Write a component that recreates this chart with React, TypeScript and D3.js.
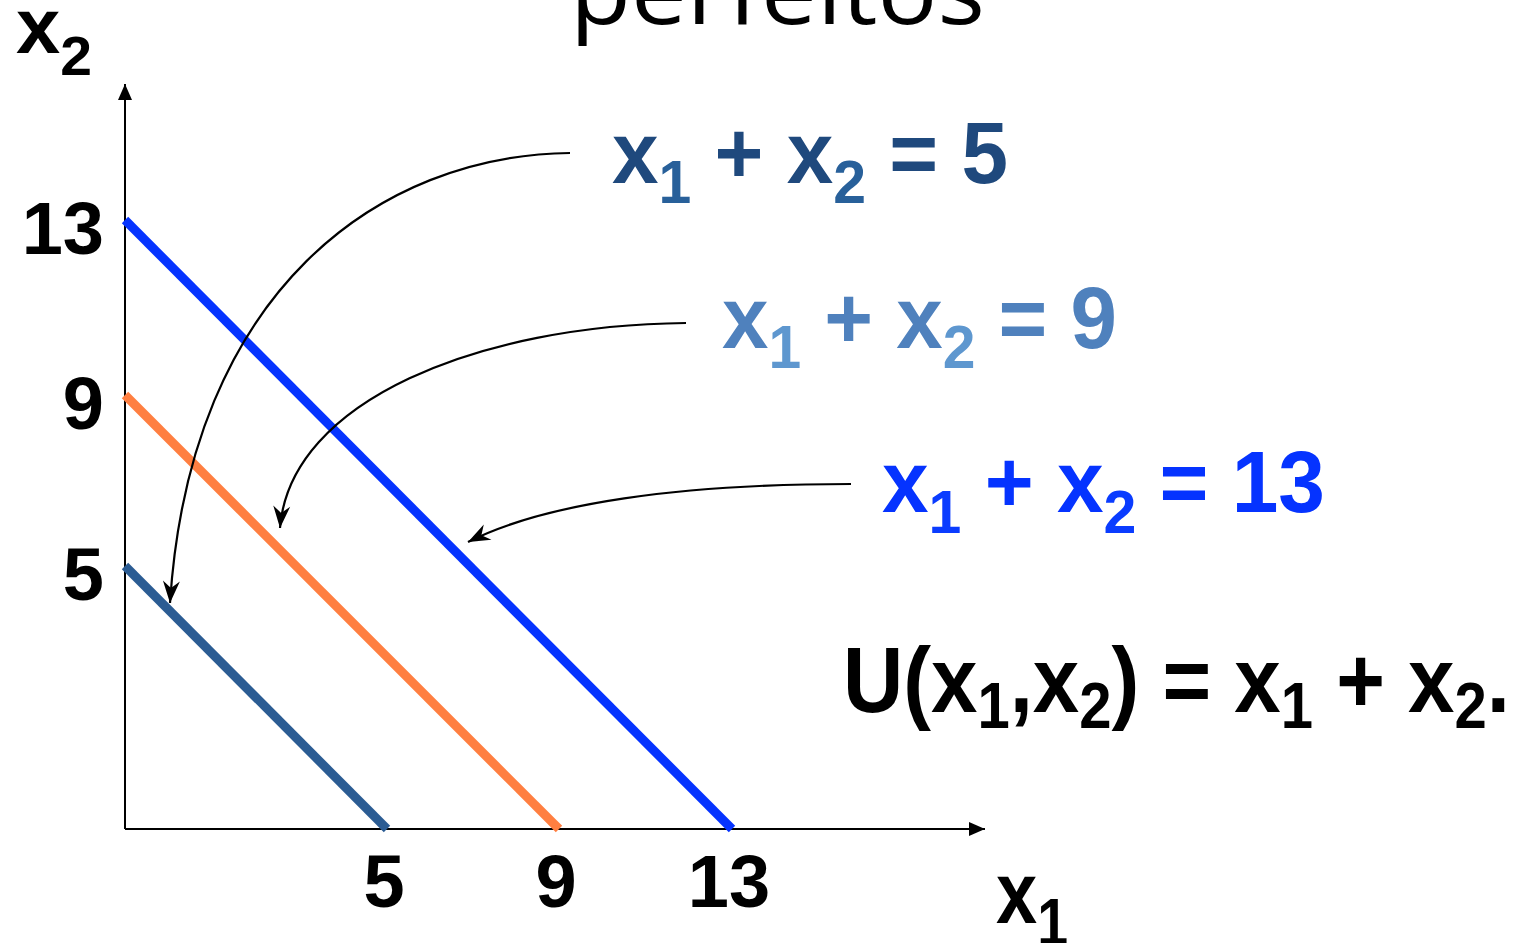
import React, { useLayoutEffect, useRef, useState } from "react";
import * as d3 from "d3";

// ---- data ----
const levels = [5, 9, 13]; // utility levels: x1 + x2 = k
const xTicks = [5, 9, 13];
const yTicks = [5, 9, 13];
const titleText = "perfeitos";
const utilityText = "U(x1,x2) = x1 + x2.";

// ---- styles ----
const lineColors = ["#2B5C93", "#FF7F41", "#0533FF"];
const labelMain = ["#1F497D", "#4F81BD", "#0533FF"];
const labelSub = ["#28609A", "#5E97CF", "#0A3CFF"];
const FONT = "'Liberation Sans', Arial, Helvetica, sans-serif";

// piecewise scale (hand drawn diagram, not strictly linear)
const xScale = d3.scaleLinear().domain([0, 5, 9, 13]).range([125, 387, 559, 732]);
const yScale = d3.scaleLinear().domain([0, 5, 9, 13]).range([829, 566, 395, 220]);

type Seg = { t: string; sub?: boolean };

function parseMath(s: string): Seg[] {
  const out: Seg[] = [];
  for (let i = 0; i < s.length; i++) {
    const c = s[i];
    const isSub = /[12]/.test(c) && i > 0 && s[i - 1] === "x";
    const last = out[out.length - 1];
    if (last && !!last.sub === isSub && !isSub) last.t += c;
    else out.push({ t: c, sub: isSub });
  }
  return out;
}

function MathText(props: {
  x: number; y: number; width: number; text: string; size: number; subSize: number;
  shift: number; fill: string; subFill: string;
}) {
  const { x, y, width, text, size, subSize, shift, fill, subFill } = props;
  const ref = useRef<SVGTextElement>(null);
  const [geo, setGeo] = useState({ sx: 1, x0: 0 });
  useLayoutEffect(() => {
    if (ref.current) {
      const b = ref.current.getBBox();
      if (b.width > 0) setGeo({ sx: width / b.width, x0: b.x });
    }
  }, [width, text]);
  const segs = parseMath(text);
  let cur = 0;
  return (
    <g transform={`translate(${x},${y}) scale(${geo.sx},1) translate(${-geo.x0},0)`}>
      <text ref={ref} x={0} y={0} fontFamily={FONT} fontWeight="bold" fontSize={size}
        fill={fill} style={{ whiteSpace: "pre" }}>
        {segs.map((s, i) => {
          const target = s.sub ? shift : 0;
          const dy = target - cur;
          cur = target;
          return (
            <tspan key={i} dy={dy || undefined} fontSize={s.sub ? subSize : size}
              fill={s.sub ? subFill : fill}>{s.t}</tspan>
          );
        })}
      </text>
    </g>
  );
}

export default function App() {
  const line = d3.line<[number, number]>().x((d) => xScale(d[0])).y((d) => yScale(d[1]));
  const x0 = xScale(0);
  const y0 = yScale(0);

  const labelPos = [
    { x: 612, y: 183, w: 396, shift: 20 },
    { x: 722, y: 348, w: 395, shift: 20 },
    { x: 882, y: 512, w: 443, shift: 21 },
  ];
  const arrows = [
    "M570,153 C380,155 190,290 170,603",
    "M686,323 C480,325 290,400 280,528",
    "M851,484 C680,484 545,503 468,542",
  ];

  return (
    <svg width={1524} height={943} style={{ position: "absolute", left: 0, top: 0, background: "#fff" }}>
      <defs>
        <marker id="ah" viewBox="-24 -10 26 20" refX={0} refY={0} markerWidth={26} markerHeight={20}
          markerUnits="userSpaceOnUse" orient="auto">
          <path d="M0,0 L-22,-8.5 L-15,0 L-22,8.5 Z" fill="#000" />
        </marker>
        <marker id="axh" viewBox="-17 -8 18 16" refX={0} refY={0} markerWidth={18} markerHeight={16}
          markerUnits="userSpaceOnUse" orient="auto">
          <path d="M0,0 L-16,-7 L-16,7 Z" fill="#000" />
        </marker>
      </defs>

      {/* title (partly cut off at top) */}
      <text x={570} y={24} fontFamily="'Open Sans', sans-serif" fontSize={92} fill="#000"
        textLength={415} lengthAdjust="spacingAndGlyphs">{titleText}</text>

      {/* axes */}
      <line x1={x0} y1={y0} x2={x0} y2={84} stroke="#000" strokeWidth={2} markerEnd="url(#axh)" />
      <line x1={x0} y1={y0} x2={985} y2={y0} stroke="#000" strokeWidth={2} markerEnd="url(#axh)" />

      {/* indifference lines */}
      {levels.map((k, i) => (
        <path key={k} d={line([[0, k], [k, 0]]) || ""} stroke={lineColors[i]} strokeWidth={9} fill="none" />
      ))}

      {/* tick labels */}
      {yTicks.map((t) => (
        <text key={"y" + t} x={104} y={yScale(t) + 34} textAnchor="end" fontFamily={FONT}
          fontWeight="bold" fontSize={74} fill="#000">{t}</text>
      ))}
      {xTicks.map((t) => (
        <text key={"x" + t} x={xScale(t) - 3} y={907} textAnchor="middle" fontFamily={FONT}
          fontWeight="bold" fontSize={74} fill="#000">{t}</text>
      ))}

      {/* axis names */}
      <MathText x={16} y={53} width={76} text="x2" size={78} subSize={56} shift={22} fill="#000" subFill="#000" />
      <MathText x={996} y={923} width={72} text="x1" size={88} subSize={66} shift={22} fill="#000" subFill="#000" />

      {/* arrows */}
      {arrows.map((d, i) => (
        <path key={i} d={d} stroke="#000" strokeWidth={2.2} fill="none" markerEnd="url(#ah)" />
      ))}

      {/* level labels */}
      {levels.map((k, i) => (
        <MathText key={k} x={labelPos[i].x} y={labelPos[i].y} width={labelPos[i].w}
          text={`x1 + x2 = ${k}`} size={88} subSize={62} shift={labelPos[i].shift}
          fill={labelMain[i]} subFill={labelSub[i]} />
      ))}

      {/* utility function */}
      <MathText x={843} y={712} width={667} text={utilityText} size={92} subSize={64} shift={16}
        fill="#000" subFill="#000" />
    </svg>
  );
}
